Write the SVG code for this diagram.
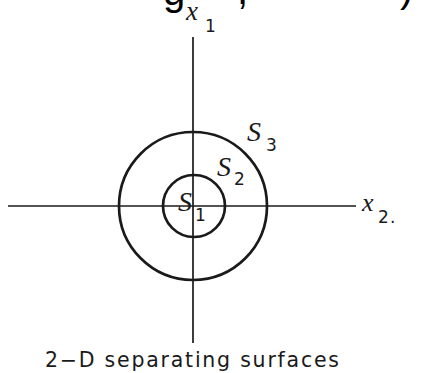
<svg xmlns="http://www.w3.org/2000/svg" width="423" height="373" viewBox="0 0 423 373">
<style>
.ax{stroke:#1a1a1a;stroke-width:1.7;fill:none}
.c{stroke:#1a1a1a;stroke-width:2.7;fill:none}
.lab{font-family:"Liberation Serif",serif;font-style:italic;fill:#1a1a1a}
.sub{font-family:"DejaVu Sans",sans-serif;fill:#1a1a1a}
.cap{font-family:"DejaVu Sans",sans-serif;fill:#1a1a1a}
</style>
<rect width="423" height="373" fill="#fff"/>
<g id="title-fragment" font-family="Liberation Sans, sans-serif" font-size="40" fill="#000">
<text x="163" y="5">g</text>
<text x="237" y="4">,</text>
<text x="400" y="2">)</text>
</g>
<g id="connectors">
<line class="ax" x1="193" y1="37" x2="193" y2="343"/>
<line class="ax" x1="8" y1="206" x2="356" y2="206"/>
</g>
<g id="S3"><circle class="c" cx="193" cy="206" r="74"/>
<text class="lab" x="247" y="141" font-size="28">S</text><text class="sub" x="266" y="151" font-size="17">3</text></g>
<g id="S2"><circle class="c" cx="194" cy="206" r="31"/>
<text class="lab" x="217" y="176" font-size="28">S</text><text class="sub" x="234" y="185" font-size="17">2</text></g>
<g id="S1"><text class="lab" x="178" y="211" font-size="28">S</text><text class="sub" x="195" y="221" font-size="17">1</text></g>
<g id="x1"><text class="lab" x="186" y="20" font-size="27">x</text><text class="sub" x="205" y="32" font-size="17">1</text></g>
<g id="x2"><text class="lab" x="362" y="211" font-size="26">x</text><text class="sub" x="378" y="223" font-size="17">2</text><text class="sub" x="390" y="223" font-size="17">.</text></g>
<g id="caption"><text class="cap" x="45" y="367" font-size="20.5" textLength="294" lengthAdjust="spacing">2−D separating surfaces</text></g>
</svg>
